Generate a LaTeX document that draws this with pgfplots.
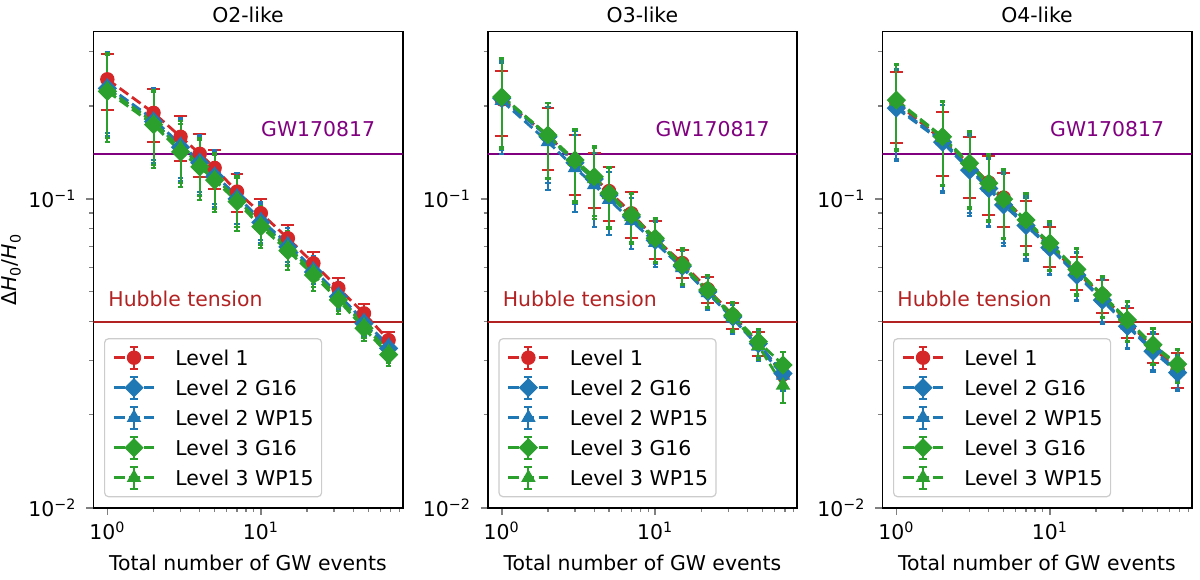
\documentclass[border=0pt]{standalone}
\usepackage{fontspec}
\setmainfont{DejaVu Sans}[ItalicFont={DejaVu Sans Oblique},BoldFont={DejaVu Sans Bold}]
\usepackage{pgfplots}
\usepackage{pgfplotstable}
\pgfplotsset{compat=1.18}

\definecolor{tabred}{HTML}{D62728}
\definecolor{tabblue}{HTML}{1F77B4}
\definecolor{tabgreen}{HTML}{2CA02C}
\definecolor{mplpurple}{HTML}{800080}
\definecolor{firebrick}{HTML}{B22222}

\pgfplotstableread{
x   l1     e1     bg     bw     gg     gw     eb     eg
1   0.244  0.050  0.228  0.232  0.223  0.227  0.068  0.070
2   0.190  0.037  0.178  0.181  0.174  0.177  0.047  0.048
3   0.159  0.026  0.147  0.150  0.142  0.146  0.033  0.033
4   0.140  0.022  0.131  0.133  0.127  0.130  0.028  0.028
5   0.126  0.018  0.118  0.120  0.115  0.117  0.024  0.024
7   0.1056 0.015  0.100  0.102  0.098  0.100  0.019  0.019
10  0.0899 0.010  0.084  0.0855 0.0813 0.083  0.012  0.012
15  0.0746 0.008  0.070  0.0715 0.068  0.0695 0.009  0.009
22  0.0619 0.0055 0.058  0.0592 0.0567 0.058  0.0063 0.0063
32  0.0514 0.0040 0.0483 0.049  0.0471 0.048  0.0047 0.0047
47  0.0426 0.0030 0.0395 0.0403 0.0381 0.039  0.0035 0.0035
68  0.0349 0.0023 0.0328 0.0335 0.0313 0.0320 0.0026 0.0026
}\otwo

\pgfplotstableread{
x   l1     e1     bg     bw     gg     gw     eb     eg
1   0.210  0.050  0.212  0.208  0.214  0.216  0.068  0.069
2   0.1605 0.0365 0.159  0.153  0.161  0.160  0.046  0.044
3   0.132  0.029  0.131  0.126  0.1336 0.132  0.035  0.035
4   0.117  0.0237 0.116  0.111  0.118  0.116  0.030  0.030
5   0.106  0.021  0.103  0.0995 0.1043 0.103  0.023  0.023
7   0.0898 0.0152 0.0875 0.085  0.0888 0.0875 0.016  0.016
10  0.0744 0.0105 0.0735 0.0722 0.0746 0.074  0.012  0.012
15  0.062  0.0064 0.0605 0.0598 0.0611 0.0605 0.008  0.008
22  0.051  0.005  0.050  0.0496 0.0507 0.0503 0.006  0.006
32  0.042  0.004  0.0415 0.041  0.042  0.0415 0.0045 0.0045
47  0.034  0.003  0.034  0.0333 0.0345 0.0335 0.0035 0.0035
68  0.027  0.0025 0.0272 0.0268 0.029  0.0249 0.003  0.003
}\othree

\pgfplotstableread{
x   l1     e1     bg     bw     gg     gw     eb     eg
1   0.205  0.053  0.197  0.199  0.209  0.207  0.064  0.064
2   0.155  0.0366 0.1527 0.154  0.159  0.158  0.048  0.048
3   0.130  0.029  0.124  0.126  0.1305 0.129  0.036  0.036
4   0.113  0.0246 0.108  0.109  0.1124 0.111  0.027  0.027
5   0.101  0.0199 0.0956 0.097  0.0998 0.099  0.025  0.025
7   0.0845 0.014  0.082  0.083  0.0855 0.0848 0.019  0.019
10  0.0707 0.0103 0.0695 0.070  0.0719 0.0714 0.013  0.013
15  0.0577 0.007  0.0567 0.0572 0.0591 0.0586 0.010  0.010
22  0.0488 0.006  0.047  0.0475 0.0489 0.0485 0.0075 0.0075
32  0.040  0.0045 0.0387 0.039  0.0406 0.0403 0.006  0.006
47  0.033  0.0035 0.0321 0.0325 0.0337 0.0334 0.0045 0.0045
68  0.028  0.0036 0.0274 0.0277 0.0292 0.0289 0.0035 0.0035
}\ofour

\pgfplotsset{legend image code/.code={%
  \draw[#1, solid, line width=1pt] (10pt,-5.4pt) -- (10pt,5.4pt)
    (8pt,-5.4pt) -- (12pt,-5.4pt) (8pt,5.4pt) -- (12pt,5.4pt);
  \draw[mark repeat=2,mark phase=2,#1] plot coordinates {(0pt,0pt) (10pt,0pt) (20pt,0pt)};%
}}

\newcommand{\refandseries}[1]{%
  \addplot[forget plot, color=mplpurple, line width=1pt] coordinates {(0.5,0.14) (200,0.14)};
  \addplot[forget plot, color=firebrick, line width=1pt] coordinates {(0.5,0.04) (200,0.04)};
  \node[anchor=base west, inner sep=0pt, text=mplpurple] at (axis cs:10,0.159) {GW170817};
  \node[anchor=base west, inner sep=0pt, text=firebrick] at (axis cs:1.01,0.0448) {Hubble tension};
  \addplot[color=tabred, line width=1.4pt, dash pattern=on 5.3pt off 2.3pt,
    mark=*, mark size=3.3pt, mark options={solid, line width=0.6pt},
    error bars/.cd, y dir=both, y explicit,
    error bar style={solid, line width=1pt},
    error mark options={rotate=90, solid, line width=1pt, mark size=3.2pt}]
    table[x=x, y=l1, y error=e1] {#1};
  \addplot[color=tabblue, line width=1.4pt, dash pattern=on 5.3pt off 2.3pt,
    mark=square*, mark size=3.1pt, mark options={solid, rotate=45, line width=0.6pt},
    error bars/.cd, y dir=both, y explicit,
    error bar style={solid, line width=1pt},
    error mark options={rotate=90, solid, line width=1pt, mark size=1.3pt}]
    table[x=x, y=bg, y error=eb] {#1};
  \addplot[color=tabblue, line width=1.4pt, dash pattern=on 5.3pt off 2.3pt,
    mark=triangle*, mark size=3.6pt, mark options={solid, line width=0.6pt},
    error bars/.cd, y dir=both, y explicit,
    error bar style={solid, line width=1pt},
    error mark options={rotate=90, solid, line width=1pt, mark size=1.3pt}]
    table[x=x, y=bw, y error=eb] {#1};
  \addplot[color=tabgreen, line width=1.4pt, dash pattern=on 5.3pt off 2.3pt,
    mark=square*, mark size=3.1pt, mark options={solid, rotate=45, line width=0.6pt},
    error bars/.cd, y dir=both, y explicit,
    error bar style={solid, line width=1pt},
    error mark options={rotate=90, solid, line width=1pt, mark size=1.3pt}]
    table[x=x, y=gg, y error=eg] {#1};
  \addplot[color=tabgreen, line width=1.4pt, dash pattern=on 5.3pt off 2.3pt,
    mark=triangle*, mark size=3.6pt, mark options={solid, line width=0.6pt},
    error bars/.cd, y dir=both, y explicit,
    error bar style={solid, line width=1pt},
    error mark options={rotate=90, solid, line width=1pt, mark size=1.3pt}]
    table[x=x, y=gw, y error=eg] {#1};
  \legend{Level 1, Level 2 G16, Level 2 WP15, Level 3 G16, Level 3 WP15}
}

\begin{document}
\begin{tikzpicture}[font=\fontsize{10.2pt}{12pt}\selectfont]
\begin{axis}[at={(46.65pt,35.65pt)}, anchor=south west, title={O2-like},
    xmode=log, ymode=log, scale only axis, width=154.7pt, height=238pt,
    xmin=0.81, xmax=84, ymin=0.01, ymax=0.348,
    xtick={1,10}, xticklabels={10\textsuperscript{0},10\textsuperscript{1}},
    ytick={0.01,0.1}, yticklabels={10\textsuperscript{−2},10\textsuperscript{−1}},
    minor xtick={2,3,4,5,6,7,8,9,20,30,40,50,60,70,80},
    minor ytick={0.02,0.03,0.04,0.05,0.06,0.07,0.08,0.09,0.2,0.3},
    tick align=outside, xtick pos=left, ytick pos=left,
    major tick length=3.5pt, minor tick length=2pt,
    major tick style={line width=0.8pt}, minor tick style={line width=0.6pt},
    axis line style={line width=0.8pt},
    yticklabel style={xshift=-1.4pt},
    xlabel={Total number of GW events},
    xlabel style={at={(axis description cs:0.5,0)}, anchor=base, yshift=-31.15pt},
    title style={at={(axis description cs:0.5,1)}, anchor=base, yshift=-1.5pt},
    legend cell align=left,
    legend style={at={(axis description cs:0,0)}, anchor=south west, xshift=5.35pt, yshift=5.2pt,
      draw=black!20, line width=0.6pt, rounded corners=2pt, fill=white,
      inner xsep=4pt, inner ysep=2pt, row sep=0pt, column sep=10pt,
      nodes={inner xsep=0pt, inner ysep=3.75pt, text height=7.5pt, text depth=0pt}},
  ylabel={Δ\textit{H}\textsubscript{0}/\textit{H}\textsubscript{0}},
  ylabel style={at={(axis description cs:0,0.5)}, anchor=base, yshift=38.2pt}]
\refandseries{\otwo}
\end{axis}
\begin{axis}[at={(243.85pt,35.65pt)}, anchor=south west, title={O3-like},
    xmode=log, ymode=log, scale only axis, width=154.7pt, height=238pt,
    xmin=0.81, xmax=84, ymin=0.01, ymax=0.348,
    xtick={1,10}, xticklabels={10\textsuperscript{0},10\textsuperscript{1}},
    ytick={0.01,0.1}, yticklabels={10\textsuperscript{−2},10\textsuperscript{−1}},
    minor xtick={2,3,4,5,6,7,8,9,20,30,40,50,60,70,80},
    minor ytick={0.02,0.03,0.04,0.05,0.06,0.07,0.08,0.09,0.2,0.3},
    tick align=outside, xtick pos=left, ytick pos=left,
    major tick length=3.5pt, minor tick length=2pt,
    major tick style={line width=0.8pt}, minor tick style={line width=0.6pt},
    axis line style={line width=0.8pt},
    yticklabel style={xshift=-1.4pt},
    xlabel={Total number of GW events},
    xlabel style={at={(axis description cs:0.5,0)}, anchor=base, yshift=-31.15pt},
    title style={at={(axis description cs:0.5,1)}, anchor=base, yshift=-1.5pt},
    legend cell align=left,
    legend style={at={(axis description cs:0,0)}, anchor=south west, xshift=5.35pt, yshift=5.2pt,
      draw=black!20, line width=0.6pt, rounded corners=2pt, fill=white,
      inner xsep=4pt, inner ysep=2pt, row sep=0pt, column sep=10pt,
      nodes={inner xsep=0pt, inner ysep=3.75pt, text height=7.5pt, text depth=0pt}}]
\refandseries{\othree}
\end{axis}
\begin{axis}[at={(441.15pt,35.65pt)}, anchor=south west, title={O4-like},
    xmode=log, ymode=log, scale only axis, width=154.7pt, height=238pt,
    xmin=0.81, xmax=84, ymin=0.01, ymax=0.348,
    xtick={1,10}, xticklabels={10\textsuperscript{0},10\textsuperscript{1}},
    ytick={0.01,0.1}, yticklabels={10\textsuperscript{−2},10\textsuperscript{−1}},
    minor xtick={2,3,4,5,6,7,8,9,20,30,40,50,60,70,80},
    minor ytick={0.02,0.03,0.04,0.05,0.06,0.07,0.08,0.09,0.2,0.3},
    tick align=outside, xtick pos=left, ytick pos=left,
    major tick length=3.5pt, minor tick length=2pt,
    major tick style={line width=0.8pt}, minor tick style={line width=0.6pt},
    axis line style={line width=0.8pt},
    yticklabel style={xshift=-1.4pt},
    xlabel={Total number of GW events},
    xlabel style={at={(axis description cs:0.5,0)}, anchor=base, yshift=-31.15pt},
    title style={at={(axis description cs:0.5,1)}, anchor=base, yshift=-1.5pt},
    legend cell align=left,
    legend style={at={(axis description cs:0,0)}, anchor=south west, xshift=5.35pt, yshift=5.2pt,
      draw=black!20, line width=0.6pt, rounded corners=2pt, fill=white,
      inner xsep=4pt, inner ysep=2pt, row sep=0pt, column sep=10pt,
      nodes={inner xsep=0pt, inner ysep=3.75pt, text height=7.5pt, text depth=0pt}}]
\refandseries{\ofour}
\end{axis}
\pgfresetboundingbox
\path[use as bounding box] (0,0) rectangle (600pt,289.5pt);
\end{tikzpicture}
\end{document}
